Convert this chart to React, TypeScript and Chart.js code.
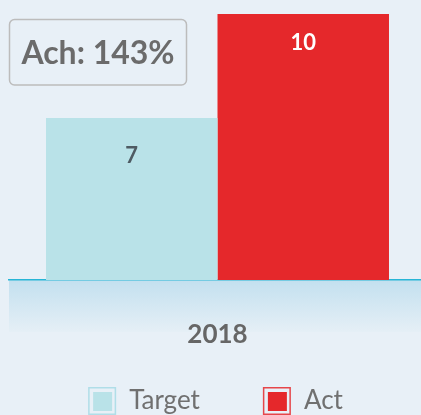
import React, { useEffect, useRef } from "react";
import { Chart, registerables } from "chart.js";

Chart.register(...registerables);

// ---- data ----
const categories = ["2018"];
const seriesNames = ["Target", "Act"];
const targetValues = [7];
const actValues = [10];
const seriesColors = ["#b9e2e8", "#e5282b"];
const legendBorderColors = ["rgba(170,220,230,0.9)", "rgba(229,40,43,0.85)"];
const valueLabelColors = ["#4e5b63", "#ffffff"];
const valueLabelOffsets = [38, 29];
const yMin = 2.33;
const yMax = 10;

const BG = "#e8f0f7";
const FONT = "Lato, 'Open Sans', sans-serif";
const LEGEND_PAD = 41;
const LEGEND_SHIFT = 22; // extra space before each legend box
const SHIFT = 17; // canvas offset to the left

const achText = () =>
  `Ach: ${Math.round((actValues[0] / targetValues[0]) * 100)}%`;

const bandPlugin = {
  id: "band",
  beforeDraw(chart: any) {
    const { ctx, chartArea } = chart;
    const { left, right, bottom } = chartArea;
    const h = 52;
    const g = ctx.createLinearGradient(0, bottom, 0, bottom + h);
    g.addColorStop(0, "#c3e0ef");
    g.addColorStop(1, "#e5eff6");
    ctx.save();
    ctx.fillStyle = g;
    ctx.fillRect(left, bottom, right - left, h);
    ctx.restore();
  },
};

const valueLabelPlugin = {
  id: "valueLabels",
  afterDatasetsDraw(chart: any) {
    const { ctx } = chart;
    ctx.save();
    chart.data.datasets.forEach((ds: any, i: number) => {
      const meta = chart.getDatasetMeta(i);
      meta.data.forEach((bar: any, j: number) => {
        ctx.font = `bold 22px ${FONT}`;
        ctx.fillStyle = valueLabelColors[i];
        ctx.textAlign = "center";
        ctx.textBaseline = "middle";
        ctx.fillText(String(ds.data[j]), bar.x, bar.y + valueLabelOffsets[i]);
      });
    });
    ctx.restore();
  },
};

const achPlugin = {
  id: "ach",
  afterDraw(chart: any) {
    const { ctx, chartArea } = chart;
    const x = chartArea.left + 0.5;
    const y = chartArea.top + 5.5;
    const w = 177;
    const h = 65.5;
    ctx.save();
    ctx.beginPath();
    ctx.roundRect(x, y, w, h, 5);
    ctx.lineWidth = 1.5;
    ctx.strokeStyle = "#bcbcbc";
    ctx.stroke();
    ctx.font = `bold 32px ${FONT}`;
    ctx.fillStyle = "#6b6b6b";
    ctx.textAlign = "center";
    ctx.textBaseline = "middle";
    ctx.fillText(achText(), x + w / 2, y + h / 2 + 1);
    ctx.restore();
  },
};

const legendBoxPlugin = {
  id: "legendBoxes",
  afterDraw(chart: any) {
    const legend = chart.legend;
    if (!legend || !legend.legendHitBoxes) return;
    const { ctx } = chart;
    ctx.save();
    legend.legendHitBoxes.forEach((hb: any, i: number) => {
      const bx = hb.left + LEGEND_SHIFT;
      ctx.lineWidth = 1.5;
      ctx.strokeStyle = legendBorderColors[i];
      ctx.strokeRect(bx + 0.75, hb.top + 0.75, 26.5, 26.5);
      ctx.fillStyle = seriesColors[i];
      ctx.fillRect(bx + 5, hb.top + 5, 19, 19);
    });
    ctx.restore();
  },
};

export default function App() {
  const ref = useRef<HTMLCanvasElement | null>(null);

  useEffect(() => {
    if (!ref.current) return;
    const chart = new Chart(ref.current, {
      type: "bar",
      data: {
        labels: categories,
        datasets: [
          {
            label: seriesNames[0],
            data: targetValues,
            backgroundColor: seriesColors[0],
            borderWidth: 0,
            categoryPercentage: 0.8225,
            barPercentage: 1,
          },
          {
            label: seriesNames[1],
            data: actValues,
            backgroundColor: seriesColors[1],
            borderWidth: 0,
            categoryPercentage: 0.8225,
            barPercentage: 1,
          },
        ],
      },
      options: {
        animation: false,
        responsive: true,
        maintainAspectRatio: false,
        devicePixelRatio: 1,
        layout: { padding: { left: 0, top: 14, right: 0, bottom: 0 } },
        plugins: {
          tooltip: { enabled: false },
          legend: {
            position: "bottom",
            labels: {
              boxWidth: 28 + LEGEND_SHIFT,
              boxHeight: 28,
              padding: LEGEND_PAD,
              color: "#707070",
              font: { family: FONT, size: 26 },
              generateLabels: (c: any) =>
                c.data.datasets.map((ds: any, i: number) => ({
                  text: ds.label,
                  fillStyle: "rgba(0,0,0,0)",
                  strokeStyle: "rgba(0,0,0,0)",
                  lineWidth: 0,
                  hidden: false,
                  datasetIndex: i,
                  fontColor: "#707070",
                })),
            },
          },
        },
        scales: {
          x: {
            grid: { display: false },
            border: { display: true, color: "#27b5d6", width: 1.5 },
            ticks: {
              padding: 31,
              color: "#666666",
              font: { family: FONT, size: 26, weight: "bold" },
            },
            afterFit: (scale: any) => {
              scale.height = 66;
            },
          },
          y: {
            display: true,
            min: yMin,
            max: yMax,
            grid: { display: false },
            border: { display: false },
            ticks: { display: false },
            afterFit: (scale: any) => {
              scale.width = 9 + SHIFT;
            },
          },
        },
      },
      plugins: [bandPlugin, valueLabelPlugin, achPlugin, legendBoxPlugin],
    });
    return () => chart.destroy();
  }, []);

  return (
    <div
      style={{
        position: "fixed",
        left: 0,
        top: 0,
        width: 421,
        height: 415,
        overflow: "hidden",
        background: BG,
      }}
    >
      <div
        style={{
          position: "absolute",
          left: -SHIFT,
          top: 0,
          width: 426 + SHIFT,
          height: 425,
        }}
      >
        <canvas ref={ref} />
      </div>
    </div>
  );
}
